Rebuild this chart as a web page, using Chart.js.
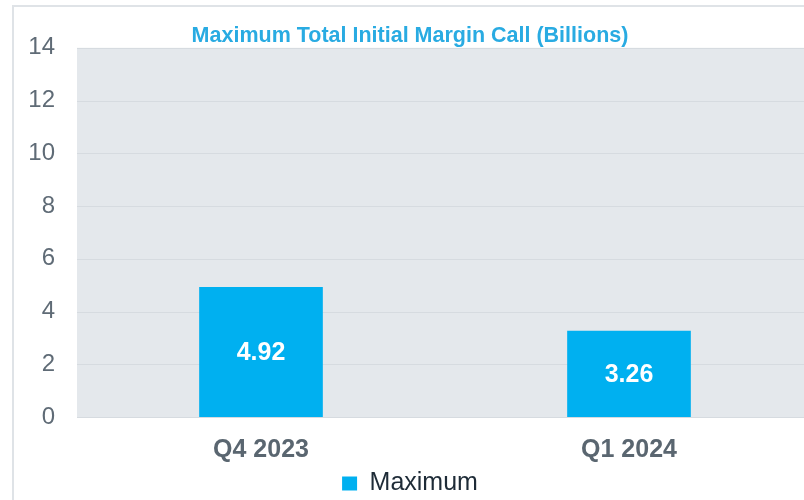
<!DOCTYPE html>
<html>
<head>
<meta charset="utf-8">
<script src="https://cdn.jsdelivr.net/npm/chart.js@4/dist/chart.umd.min.js"></script>
<style>
  html, body { margin: 0; padding: 0; background: #fff; overflow: hidden; }
  #wrap { position: relative; width: 804px; height: 500px; overflow: hidden; }
  #myChart { position: absolute; left: 0; top: 0; }
  #frame { position: absolute; left: 12px; top: 5px; width: 900px; height: 600px;
           border: 2px solid #dfe3e7; pointer-events: none; }
</style>
</head>
<body>
<div id="wrap">
  <canvas id="myChart" width="820" height="511"></canvas>
  <div id="frame"></div>
</div>
<script>
// data
const quarters = ['Q4 2023', 'Q1 2024'];
const maxCall = [4.92, 3.26];
const seriesName = 'Maximum';
const chartTitle = 'Maximum Total Initial Margin Call (Billions)';

const barColor = '#00b0f0';
const fontFam = '"Liberation Sans", Arial, sans-serif';

// grey plot background + grid
const plotBg = {
  id: 'plotBg',
  beforeDatasetsDraw(chart) {
    const a = chart.chartArea;
    const ctx = chart.ctx;
    ctx.save();
    ctx.fillStyle = '#e4e8ec';
    ctx.fillRect(a.left, a.top, a.right - a.left, a.bottom - a.top);
    const y = chart.scales.y;
    ctx.strokeStyle = '#d6dbe0';
    ctx.lineWidth = 1;
    y.ticks.forEach(function (t) {
      const py = Math.round(y.getPixelForValue(t.value)) + 0.5;
      ctx.beginPath();
      ctx.moveTo(a.left, py);
      ctx.lineTo(a.right, py);
      ctx.stroke();
    });
    ctx.restore();
  }
};

// white value labels in the middle of each bar
const barValues = {
  id: 'barValues',
  afterDatasetsDraw(chart) {
    const ctx = chart.ctx;
    const meta = chart.getDatasetMeta(0);
    ctx.save();
    ctx.fillStyle = '#ffffff';
    ctx.font = 'bold 25px ' + fontFam;
    ctx.textAlign = 'center';
    ctx.textBaseline = 'middle';
    meta.data.forEach(function (bar, i) {
      ctx.fillText(maxCall[i].toFixed(2), bar.x, (bar.y + bar.base) / 2 + 1);
    });
    ctx.restore();
  }
};

const ctx = document.getElementById('myChart').getContext('2d');
const chart = new Chart(ctx, {
  type: 'bar',
  data: {
    labels: quarters,
    datasets: [{
      label: seriesName,
      data: maxCall,
      backgroundColor: barColor,
      borderWidth: 0,
      barThickness: 123
    }]
  },
  options: {
    responsive: false,
    animation: false,
    layout: { padding: { left: 7, right: 7, top: 0, bottom: 5 } },
    plugins: {
      title: {
        display: true,
        text: chartTitle,
        color: '#29abe2',
        font: { family: fontFam, size: 21.5, weight: 'bold', lineHeight: 1.2 },
        padding: { top: 23, bottom: -1 }
      },
      legend: {
        position: 'bottom',
        labels: {
          boxWidth: 15,
          boxHeight: 14,
          color: '#1e2b37',
          padding: 0,
          font: { family: fontFam, size: 25 }
        }
      },
      tooltip: { enabled: false }
    },
    scales: {
      x: {
        afterFit(scale) { scale.height = 54; },
        grid: { display: false, drawTicks: false },
        border: { display: false },
        ticks: {
          color: '#5a6670',
          padding: 18,
          font: { family: fontFam, size: 25, weight: 'bold' }
        }
      },
      y: {
        min: 0,
        max: 14,
        afterFit(scale) { scale.width = 70; },
        grid: { display: false, drawTicks: false },
        border: { display: false },
        ticks: {
          stepSize: 2,
          color: '#5f6b76',
          padding: 22,
          font: { family: fontFam, size: 24 }
        }
      }
    }
  },
  plugins: [plotBg, barValues]
});
</script>
</body>
</html>
